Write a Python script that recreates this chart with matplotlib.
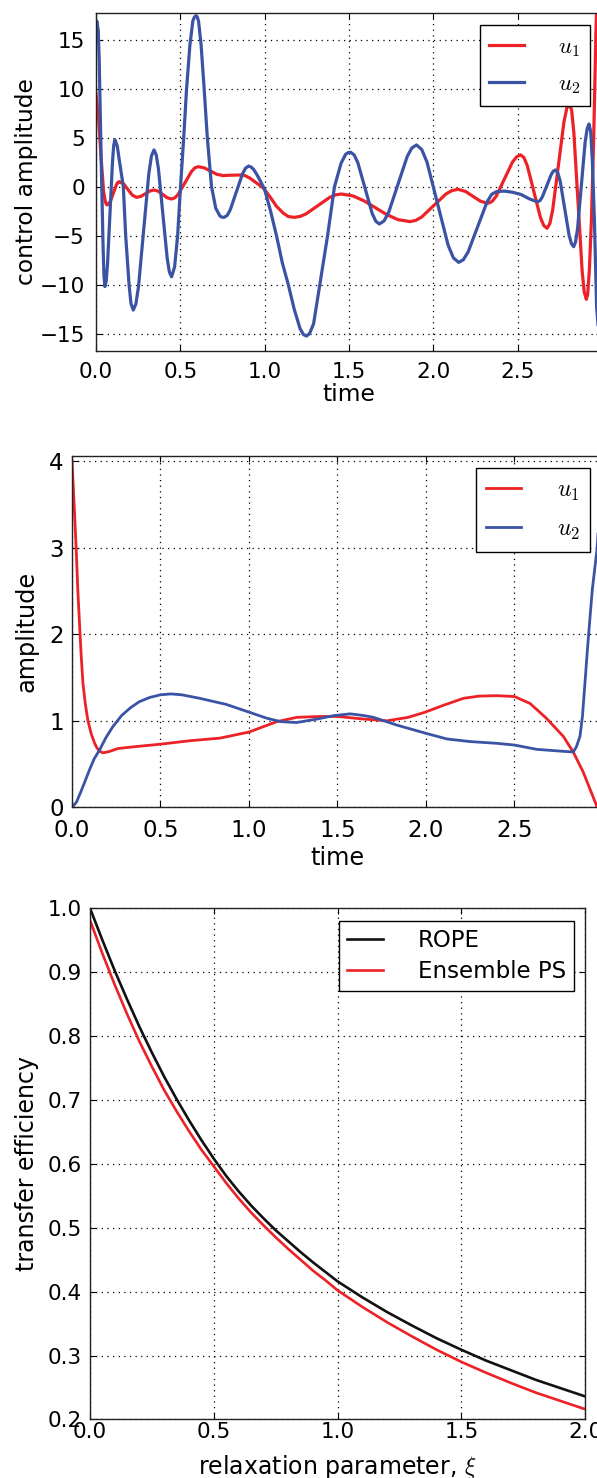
import numpy as np
import matplotlib
matplotlib.use('Agg')
import matplotlib.pyplot as plt

plt.rcParams['font.family'] = 'DejaVu Sans'
plt.rcParams['mathtext.fontset'] = 'cm'

red = '#ec2227'
blue = '#3a53a4'

# --- panel 1: control amplitudes ---
t_ctrl_u1 = [0.000, 0.015, 0.030, 0.045, 0.055, 0.061, 0.067, 0.074, 0.0848, 0.1025,
             0.120, 0.129, 0.138, 0.164, 0.1895, 0.215, 0.241, 0.267, 0.293, 0.318,
             0.344, 0.370, 0.396, 0.422, 0.448, 0.4678, 0.4875, 0.527, 0.5665, 0.586,
             0.606, 0.643, 0.680, 0.717, 0.754, 0.800, 0.853, 0.880, 0.910, 0.950,
             0.990, 1.030, 1.070, 1.110, 1.140, 1.175, 1.210, 1.245, 1.315, 1.385,
             1.420, 1.455, 1.5225, 1.590, 1.6575, 1.725, 1.7925, 1.826, 1.860, 1.896,
             1.9315, 2.003, 2.0745, 2.110, 2.146, 2.190, 2.235, 2.280, 2.324, 2.348,
             2.3725, 2.421, 2.4695, 2.494, 2.518, 2.5375, 2.557, 2.596, 2.635, 2.6545,
             2.674, 2.6908, 2.7075, 2.741, 2.7745, 2.7913, 2.808, 2.8204, 2.8328, 2.8575,
             2.882, 2.8944, 2.907, 2.915, 2.925, 2.937, 2.950, 2.965, 2.980]
ctrl_u1 = [9.5, 7.0, 3.0, -0.5, -1.5, -1.8, -1.87, -1.75, -1.52, -0.68,
           0.16, 0.42, 0.51, 0.28, -0.29, -0.86, -1.09, -0.98, -0.72, -0.45,
           -0.34, -0.47, -0.8, -1.13, -1.26, -1.135, -0.78, 0.39, 1.56, 1.92,
           2.04, 1.91, 1.585, 1.26, 1.13, 1.17, 1.19, 1.15, 0.9, 0.4,
           -0.1, -1.0, -2.0, -2.7, -3.05, -3.13, -3.04, -2.78, -1.94, -1.1,
           -0.84, -0.75, -0.94, -1.455, -2.16, -2.865, -3.38, -3.46, -3.57, -3.44,
           -3.09, -1.92, -0.75, -0.4, -0.27, -0.48, -0.985, -1.49, -1.7, -1.51,
           -0.98, 0.77, 2.52, 3.05, 3.24, 2.955, 2.14, -0.505, -3.15, -3.965,
           -4.25, -3.765, -2.38, 2.125, 6.63, 8.015, 8.5, 7.74, 5.57, -1.5,
           -8.57, -10.74, -11.5, -11.0, -8.5, -3.5, 4.5, 16.5, 24.0]

t_ctrl_u2 = [0.000, 0.005, 0.0136, 0.019, 0.030, 0.042, 0.0474, 0.053, 0.0604, 0.068,
             0.083, 0.098, 0.1051, 0.1125, 0.1261, 0.140, 0.162, 0.176, 0.196, 0.2074,
             0.221, 0.2364, 0.252, 0.283, 0.313, 0.3286, 0.344, 0.357, 0.370, 0.396,
             0.422, 0.435, 0.448, 0.466, 0.484, 0.500, 0.520, 0.537, 0.557, 0.574,
             0.583, 0.592, 0.600, 0.608, 0.623, 0.640, 0.660, 0.685, 0.710, 0.735,
             0.748, 0.760, 0.778, 0.796, 0.8325, 0.869, 0.887, 0.905, 0.920, 0.935,
             0.955, 0.980, 1.000, 1.035, 1.070, 1.105, 1.140, 1.175, 1.210, 1.230,
             1.248, 1.266, 1.290, 1.327, 1.373, 1.414, 1.453, 1.480, 1.495, 1.510,
             1.531, 1.5525, 1.595, 1.6375, 1.659, 1.680, 1.7075, 1.735, 1.790, 1.845,
             1.8725, 1.900, 1.931, 1.9625, 2.025, 2.0875, 2.119, 2.150, 2.178, 2.206,
             2.262, 2.318, 2.346, 2.374, 2.420, 2.470, 2.520, 2.570, 2.600, 2.620,
             2.633, 2.646, 2.6725, 2.699, 2.712, 2.725, 2.738, 2.752, 2.7785, 2.805,
             2.819, 2.832, 2.843, 2.855, 2.8775, 2.900, 2.912, 2.923, 2.933, 2.943,
             2.955, 2.968, 2.985, 3.000]
ctrl_u2 = [16.4, 16.9, 15.9, 12.9, 3.4, -6.2, -9.17, -10.2, -9.63, -8.0,
           -2.7, 2.6, 4.23, 4.8, 4.14, 2.5, 0.0, -5.0, -10.0, -11.94,
           -12.6, -11.98, -10.2, -4.4, 1.3, 3.13, 3.75, 3.26, 1.85, -2.7,
           -7.3, -8.71, -9.2, -8.2, -5.0, -0.3, 5.0, 10.0, 14.5, 16.9,
           17.3, 17.45, 17.35, 16.9, 14.5, 10.3, 5.0, 0.0, -2.2, -3.0,
           -3.12, -3.13, -2.93, -2.36, -0.52, 1.33, 1.9, 2.1, 2.0, 1.75,
           1.2, 0.4, -0.3, -2.5, -5.0, -7.8, -10.0, -12.5, -14.5, -15.1,
           -15.25, -15.0, -14.0, -10.0, -5.0, 0.0, 2.4, 3.3, 3.48, 3.51,
           3.23, 2.44, -0.15, -2.74, -3.53, -3.81, -3.5, -2.63, 0.22, 3.08,
           3.95, 4.26, 3.8, 2.5, -1.74, -5.97, -7.27, -7.73, -7.46, -6.67,
           -4.12, -1.57, -0.78, -0.51, -0.45, -0.57, -0.8, -1.25, -1.45, -1.53,
           -1.41, -1.05, 0.09, 1.24, 1.59, 1.71, 1.41, 0.56, -2.21, -4.98,
           -5.83, -6.13, -5.65, -4.29, 0.13, 4.56, 5.92, 6.4, 5.6, 2.5,
           -3.5, -12.3, -16.0, -16.75]

# --- panel 2: amplitudes ---
t_amp_u1 = [0.000, 0.012, 0.024, 0.033, 0.043, 0.052, 0.062, 0.075, 0.090, 0.110,
            0.128, 0.140, 0.155, 0.175, 0.210, 0.260, 0.350, 0.500, 0.667, 0.836,
            1.000, 1.157, 1.271, 1.400, 1.500, 1.648, 1.780, 1.900, 1.996, 2.100,
            2.213, 2.300, 2.400, 2.500, 2.588, 2.680, 2.776, 2.832, 2.888, 2.966,
            3.000]
amp_u1 = [4.0, 3.5, 2.97, 2.5, 2.1, 1.75, 1.43, 1.2, 1.0, 0.84,
          0.74, 0.69, 0.65, 0.63, 0.645, 0.68, 0.70, 0.73, 0.77, 0.80,
          0.87, 0.99, 1.04, 1.05, 1.05, 1.02, 1.0, 1.04, 1.10, 1.18,
          1.26, 1.285, 1.29, 1.28, 1.20, 1.03, 0.82, 0.64, 0.41, 0.01,
          0.0]

t_amp_u2 = [0.000, 0.025, 0.050, 0.075, 0.100, 0.125, 0.155, 0.190, 0.230, 0.280,
            0.330, 0.380, 0.440, 0.500, 0.560, 0.620, 0.720, 0.870, 1.000, 1.100,
            1.180, 1.270, 1.384, 1.480, 1.572, 1.650, 1.703, 1.836, 2.000, 2.119,
            2.250, 2.400, 2.500, 2.627, 2.759, 2.832, 2.850, 2.870, 2.884, 2.898,
            2.912, 2.927, 2.940, 2.955, 2.966, 3.000]
amp_u2 = [0.0, 0.06, 0.18, 0.31, 0.44, 0.56, 0.66, 0.80, 0.93, 1.06,
          1.15, 1.22, 1.27, 1.30, 1.31, 1.30, 1.26, 1.19, 1.10, 1.03,
          0.99, 0.98, 1.02, 1.06, 1.08, 1.06, 1.04, 0.95, 0.855, 0.79,
          0.76, 0.74, 0.72, 0.67, 0.65, 0.64, 0.70, 0.82, 1.05, 1.43,
          1.82, 2.2, 2.52, 2.78, 2.97, 4.05]

# --- panel 3: transfer efficiency ---
xi = [0.0, 0.05, 0.1, 0.15, 0.2, 0.25, 0.3, 0.35, 0.4, 0.45, 0.5,
      0.55, 0.6, 0.65, 0.7, 0.75, 0.8, 0.85, 0.9, 0.95, 1.0,
      1.1, 1.2, 1.3, 1.4, 1.5, 1.6, 1.7, 1.8, 1.9, 2.0]
eff_rope = [1.000, 0.950, 0.902, 0.857, 0.814, 0.774, 0.736, 0.701, 0.668, 0.637, 0.608,
            0.581, 0.557, 0.535, 0.515, 0.496, 0.479, 0.462, 0.446, 0.431, 0.416,
            0.391, 0.368, 0.347, 0.327, 0.309, 0.292, 0.277, 0.262, 0.249, 0.236]
eff_ens = [0.981, 0.929, 0.880, 0.834, 0.791, 0.752, 0.715, 0.682, 0.651, 0.622, 0.596,
           0.570, 0.546, 0.524, 0.504, 0.485, 0.467, 0.450, 0.433, 0.418, 0.402,
           0.376, 0.352, 0.330, 0.309, 0.290, 0.273, 0.257, 0.242, 0.229, 0.216]


def style_axes(ax, tick_size, xpad, ypad):
    ax.grid(True, color='k', linestyle=(0, (1, 3.5)), linewidth=0.9)
    ax.tick_params(direction='in', top=True, right=True, length=4, width=0.8,
                   labelsize=tick_size)
    ax.tick_params(axis='x', pad=xpad)
    ax.tick_params(axis='y', pad=ypad)
    for s in ax.spines.values():
        s.set_linewidth(1.0)
        s.set_color('#222222')


def add_legend(ax, anchor, fs, bpad, lspace, tpad, hlen):
    leg = ax.legend(loc='upper right', bbox_to_anchor=anchor, borderaxespad=0,
                    fontsize=fs, fancybox=False, framealpha=1, edgecolor='k',
                    handlelength=hlen, handletextpad=tpad, borderpad=bpad,
                    labelspacing=lspace)
    leg.get_frame().set_linewidth(1.0)


fig = plt.figure(figsize=(5.97, 14.78), dpi=100)

# panel 1
ax1 = fig.add_axes([0.1608, 0.7627, 0.8476, 0.2283])
ax1.plot(t_ctrl_u1, ctrl_u1, color=red, lw=2.3, label='$u_1$')
ax1.plot(t_ctrl_u2, ctrl_u2, color=blue, lw=2.3, label='$u_2$')
ax1.set_xlim(0, 3.0)
ax1.set_ylim(-16.75, 17.7)
ax1.set_xticks([0.0, 0.5, 1.0, 1.5, 2.0, 2.5])
ax1.set_yticks([-15, -10, -5, 0, 5, 10, 15])
style_axes(ax1, 15.5, 8, 8)
ax1.set_xlabel('time', fontsize=16.8, labelpad=1)
ax1.set_ylabel('control amplitude', fontsize=16.8, labelpad=1)
add_legend(ax1, (0.976, 0.965), 16.5, 0.42, 0.6, 1.5, 1.5)

# panel 2
ax2 = fig.add_axes([0.1206, 0.4537, 0.8894, 0.2380])
ax2.plot(t_amp_u1, amp_u1, color=red, lw=2.0, label='$u_1$')
ax2.plot(t_amp_u2, amp_u2, color=blue, lw=2.0, label='$u_2$')
ax2.set_xlim(0, 3.0)
ax2.set_ylim(0, 4.06)
ax2.set_xticks([0.0, 0.5, 1.0, 1.5, 2.0, 2.5])
ax2.set_yticks([0, 1, 2, 3, 4])
style_axes(ax2, 16.5, 8, 6)
ax2.set_xlabel('time', fontsize=17.3, labelpad=3)
ax2.set_ylabel('amplitude', fontsize=17.3, labelpad=7.5)
add_legend(ax2, (0.975, 0.966), 17, 0.42, 0.6, 1.5, 1.5)

# panel 3
ax3 = fig.add_axes([0.1508, 0.0396, 0.8296, 0.3459])
ax3.plot(xi, eff_rope, color='#111111', lw=1.9, label='ROPE')
ax3.plot(xi, eff_ens, color=red, lw=1.9, label='Ensemble PS')
ax3.set_xlim(0, 2.0)
ax3.set_ylim(0.2, 1.0)
ax3.set_xticks([0.0, 0.5, 1.0, 1.5, 2.0])
ax3.set_yticks([0.2, 0.3, 0.4, 0.5, 0.6, 0.7, 0.8, 0.9, 1.0])
style_axes(ax3, 15.5, 2, 6)
ax3.set_xlabel(r'relaxation parameter, $\xi$', fontsize=17, labelpad=8)
ax3.set_ylabel('transfer efficiency', fontsize=17, labelpad=6)
add_legend(ax3, (0.9766, 0.9755), 16.5, 0.35, 0.35, 1.5, 1.6)

fig.savefig('out.png', dpi=100, facecolor='white')
